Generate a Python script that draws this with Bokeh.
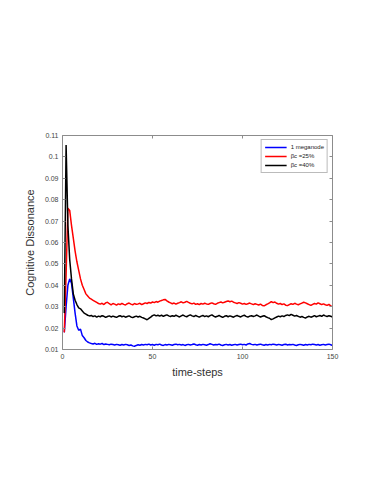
from bokeh.plotting import figure
from bokeh.models import Range1d, LinearAxis, FixedTicker, CustomJSTickFormatter, Legend, LegendItem
from bokeh.embed import file_html
from bokeh.resources import INLINE

steps = list(range(1, 151))

meganode = [
    0.018, 0.030, 0.040, 0.043, 0.041, 0.034, 0.027, 0.021, 0.019, 0.0195, 0.0165, 0.0155, 0.0142, 0.0135, 0.0131,
    0.0128, 0.0126, 0.0129, 0.0124, 0.0127, 0.0125, 0.0128, 0.0123, 0.0126, 0.0124, 0.0122, 0.0125, 0.0123, 0.0121, 0.0124,
    0.0122, 0.0120, 0.0123, 0.0121, 0.0124, 0.0122, 0.0119, 0.0121, 0.0117, 0.0115, 0.0119, 0.0122, 0.0120, 0.0123, 0.0121,
    0.0124, 0.0122, 0.0125, 0.0121, 0.0123, 0.0120, 0.0124, 0.0122, 0.0125, 0.0121, 0.0119, 0.0123, 0.0121, 0.0124, 0.0122,
    0.0120, 0.0123, 0.0125, 0.0122, 0.0124, 0.0121, 0.0123, 0.0119, 0.0122, 0.0124, 0.0121, 0.0123, 0.0126, 0.0122, 0.0120,
    0.0123, 0.0121, 0.0124, 0.0122, 0.0120, 0.0123, 0.0127, 0.0124, 0.0121, 0.0123, 0.0122, 0.0125, 0.0121, 0.0119, 0.0122,
    0.0124, 0.0121, 0.0123, 0.0120, 0.0122, 0.0124, 0.0121, 0.0123, 0.0125, 0.0122, 0.0124, 0.0121, 0.0126, 0.0128, 0.0124,
    0.0122, 0.0124, 0.0121, 0.0123, 0.0125, 0.0122, 0.0120, 0.0123, 0.0121, 0.0124, 0.0122, 0.0125, 0.0123, 0.0121, 0.0124,
    0.0122, 0.0120, 0.0123, 0.0125, 0.0121, 0.0123, 0.0122, 0.0124, 0.0121, 0.0119, 0.0122, 0.0124, 0.0122, 0.0120, 0.0123,
    0.0121, 0.0124, 0.0122, 0.0125, 0.0123, 0.0121, 0.0123, 0.0120, 0.0122, 0.0124, 0.0121, 0.0123, 0.0125, 0.0122, 0.0119,
]

beta25 = [
    0.018, 0.045, 0.076, 0.075, 0.068, 0.062, 0.056, 0.051, 0.047, 0.043, 0.040, 0.038, 0.036, 0.035, 0.034,
    0.0335, 0.033, 0.0325, 0.032, 0.0315, 0.0312, 0.0316, 0.0310, 0.0318, 0.0321, 0.0314, 0.0309, 0.0315, 0.0312, 0.0307,
    0.0313, 0.0310, 0.0316, 0.0311, 0.0308, 0.0314, 0.0317, 0.0312, 0.0309, 0.0315, 0.0311, 0.0313, 0.0316, 0.0310, 0.0314,
    0.0318, 0.0315, 0.0320, 0.0317, 0.0322, 0.0319, 0.0324, 0.0321, 0.0326, 0.0329, 0.0332, 0.0334, 0.0327, 0.0322, 0.0318,
    0.0314, 0.0317, 0.0312, 0.0316, 0.0319, 0.0323, 0.0318, 0.0321, 0.0325, 0.0320, 0.0316, 0.0313, 0.0317, 0.0311, 0.0314,
    0.0310, 0.0315, 0.0312, 0.0316, 0.0313, 0.0311, 0.0315, 0.0318, 0.0314, 0.0311, 0.0316, 0.0319, 0.0322, 0.0318, 0.0321,
    0.0324, 0.0327, 0.0323, 0.0326, 0.0321, 0.0318, 0.0315, 0.0319, 0.0316, 0.0312, 0.0315, 0.0311, 0.0314, 0.0317, 0.0313,
    0.0310, 0.0314, 0.0311, 0.0308, 0.0312, 0.0306, 0.0304, 0.0309, 0.0313, 0.0318, 0.0324, 0.0319, 0.0322, 0.0316, 0.0312,
    0.0315, 0.0310, 0.0313, 0.0307, 0.0305, 0.0310, 0.0314, 0.0311, 0.0316, 0.0312, 0.0309, 0.0313, 0.0317, 0.0321, 0.0318,
    0.0314, 0.0310, 0.0306, 0.0311, 0.0315, 0.0312, 0.0318, 0.0314, 0.0310, 0.0313, 0.0309, 0.0306, 0.0311, 0.0304, 0.0301,
]

beta40 = [
    0.027, 0.1055, 0.068, 0.052, 0.043, 0.036, 0.033, 0.031, 0.0295, 0.029, 0.028, 0.027, 0.0265, 0.026, 0.0257,
    0.0259, 0.0254, 0.0257, 0.0251, 0.0256, 0.0253, 0.0258, 0.0255, 0.0250, 0.0254, 0.0257, 0.0252, 0.0256, 0.0253, 0.0250,
    0.0255, 0.0258, 0.0253, 0.0256, 0.0251, 0.0254, 0.0257, 0.0252, 0.0249, 0.0253, 0.0256, 0.0252, 0.0255, 0.0250, 0.0247,
    0.0243, 0.0239, 0.0245, 0.0251, 0.0258, 0.0262, 0.0257, 0.0260, 0.0256, 0.0261, 0.0255, 0.0259, 0.0262, 0.0257, 0.0254,
    0.0258, 0.0255, 0.0260, 0.0256, 0.0252, 0.0257, 0.0261, 0.0256, 0.0253, 0.0258, 0.0262, 0.0257, 0.0254, 0.0259, 0.0255,
    0.0251, 0.0256, 0.0259, 0.0254, 0.0257, 0.0253, 0.0258, 0.0262, 0.0256, 0.0252, 0.0255, 0.0259, 0.0254, 0.0250, 0.0255,
    0.0258, 0.0253, 0.0257, 0.0254, 0.0251, 0.0256, 0.0259, 0.0255, 0.0252, 0.0257, 0.0260, 0.0255, 0.0251, 0.0256, 0.0258,
    0.0254, 0.0257, 0.0261, 0.0256, 0.0252, 0.0255, 0.0258, 0.0253, 0.0249, 0.0246, 0.0240, 0.0243, 0.0248, 0.0252, 0.0256,
    0.0253, 0.0257, 0.0254, 0.0259, 0.0262, 0.0258, 0.0264, 0.0260, 0.0256, 0.0259, 0.0255, 0.0251, 0.0254, 0.0250, 0.0247,
    0.0252, 0.0255, 0.0251, 0.0254, 0.0258, 0.0253, 0.0256, 0.0259, 0.0255, 0.0261, 0.0257, 0.0254, 0.0258, 0.0255, 0.0252,
]

x_ticks = [0, 50, 100, 150]
y_ticks = [0.01, 0.02, 0.03, 0.04, 0.05, 0.06, 0.07, 0.08, 0.09, 0.10, 0.11]
labels = ["1 meganode", "βc =25%", "βc =40%"]
colors = ["#0000ff", "#ff0000", "#000000"]

p = figure(width=348, height=388, output_backend="svg", toolbar_location=None,
           x_range=Range1d(0, 150), y_range=Range1d(0.01, 0.11),
           min_border_left=62, min_border_right=16, min_border_top=135, min_border_bottom=39)
p.outline_line_color = None
p.grid.visible = False
p.background_fill_color = "white"
p.border_fill_color = "white"

fmt = CustomJSTickFormatter(code="var s = tick.toFixed(2); if (s.endsWith('0') && s != '0.00') { s = s.slice(0, -1); } return s;")

axis_col = "#8c8c8c"
lbl_col = "#444444"

p.xaxis.ticker = FixedTicker(ticks=x_ticks)
p.yaxis.ticker = FixedTicker(ticks=y_ticks)
p.yaxis.formatter = fmt
for ax in [p.xaxis[0], p.yaxis[0]]:
    ax.axis_line_color = axis_col
    ax.major_tick_line_color = axis_col
    ax.major_tick_in = 3
    ax.major_tick_out = 0
    ax.minor_tick_line_color = None
    ax.major_label_text_font = "Liberation Sans"
    ax.major_label_text_font_size = "7px"
    ax.major_label_text_color = lbl_col
    ax.axis_label_text_font = "Liberation Sans"
    ax.axis_label_text_font_size = "11px"
    ax.axis_label_text_font_style = "normal"
    ax.axis_label_text_color = "#333333"
p.xaxis.axis_label = "time-steps"
p.yaxis.axis_label = "Cognitive Dissonance"
p.xaxis.axis_label_standoff = 4
p.yaxis.axis_label_standoff = 6
p.xaxis.major_label_standoff = 4
p.yaxis.major_label_standoff = 4

top = LinearAxis(ticker=FixedTicker(ticks=x_ticks), major_label_text_font_size="0px")
right = LinearAxis(ticker=FixedTicker(ticks=y_ticks), major_label_text_font_size="0px")
for ax in [top, right]:
    ax.axis_line_color = axis_col
    ax.major_tick_line_color = axis_col
    ax.major_tick_in = 3
    ax.major_tick_out = 0
    ax.minor_tick_line_color = None
    ax.major_label_text_color = None
p.add_layout(top, "above")
p.add_layout(right, "right")

r1 = p.line(steps, meganode, line_color=colors[0], line_width=1.5)
r2 = p.line(steps, beta25, line_color=colors[1], line_width=1.5)
r3 = p.line(steps, beta40, line_color=colors[2], line_width=1.5)

legend = Legend(items=[LegendItem(label=labels[0], renderers=[r1]),
                       LegendItem(label=labels[1], renderers=[r2]),
                       LegendItem(label=labels[2], renderers=[r3])],
                location="top_right")
legend.label_text_font = "Liberation Sans"
legend.label_text_font_size = "6px"
legend.label_text_color = "#222222"
legend.glyph_width = 22
legend.glyph_height = 8
legend.label_height = 8
legend.label_standoff = 4
legend.spacing = 1
legend.padding = 3
legend.margin = 4
legend.border_line_color = "#777777"
legend.border_line_width = 1
legend.background_fill_alpha = 1
p.add_layout(legend)

open("out.html", "w").write(file_html(p, INLINE))
